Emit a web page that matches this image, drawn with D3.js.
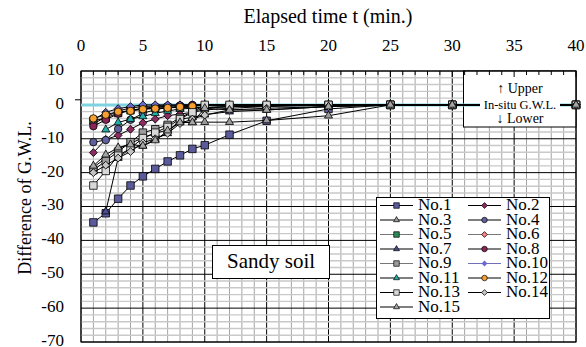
<!DOCTYPE html>
<html>
<head>
<meta charset="utf-8">
<script src="https://cdn.jsdelivr.net/npm/d3@7"></script>
<style>
  body { margin: 0; background: #fff; }
</style>
</head>
<body>
<div id="chart"></div>
<script>
// elapsed time (min.)
const times = [1, 2, 3, 4, 5, 6, 7, 8, 9, 10, 12, 15, 20, 25, 30, 40];
const seriesNames = ['No.1', 'No.2', 'No.3', 'No.4', 'No.5', 'No.6', 'No.7', 'No.8',
                     'No.9', 'No.10', 'No.11', 'No.12', 'No.13', 'No.14', 'No.15'];

// difference of G.W.L. for each well
const no1  = [-34.7, -32, -27.7, -23.8, -21.1, -18.9, -16.7, -14.9, -13, -11.9, -8.8, -4.7, -1.2, 0, 0, 0];
const no2  = [-14.1, -10.2, -9, -7.2, -5.3, -4.2, -3.2, -2.7, -2.2, -1.5, -1, -0.5, 0, 0, 0, 0];
const no3  = [-18.4, -15.8, -13, -11.3, -9.8, -8.4, -7.4, -5.1, -5.1, -5.1, -5.1, -4.6, -3.2, 0, 0, 0];
const no4  = [-11, -10.4, -7.1, -4.4, -2.5, -1.4, -0.8, -0.4, -0.2, 0, 0, 0, 0, 0, 0, 0];
const no5  = [-4.7, -3.9, -2.4, -1.6, -1.2, -0.9, -0.8, -0.8, -0.8, -0.8, -0.5, -0.3, 0, 0, 0, 0];
const no6  = [-5.6, -3.6, -1.8, -0.9, -0.5, -0.3, -0.2, 0, 0, 0, 0, 0, 0, 0, 0, 0];
const no7  = [null, -31.5, -15.7, -12.8, -12.1, -10.1, -8.4, -4.2, -3.7, -2.9, -2, -1.5, -0.5, 0, 0, 0];
const no8  = [-6.3, -4.4, -2.6, -1.6, -1, -0.6, -0.4, -0.2, 0, 0, 0, 0, 0, 0, 0, 0];
const no9  = [-19.3, -16.5, -13.8, -11, -8.2, -7.2, -5.9, -3.8, -2, -1, -0.5, -0.3, -0.2, 0, 0, 0];
const no10 = [-4.4, -2.2, -1.1, -0.5, 0, 0, 0, 0, 0, 0, 0, 0, 0, 0, 0, 0];
const no11 = [null, -7.3, -5.2, -4.2, -3.4, -2.5, -1.8, -1.2, -1, -0.8, -0.5, -0.2, 0, 0, 0, 0];
const no12 = [-4, -2.9, -2, -1.8, -1.3, -1.1, -0.9, -0.6, -0.4, -0.2, 0, 0, 0, 0, 0, 0];
const no13 = [-23.8, -19.5, -15, -12.8, -9.8, -8.2, -6.5, -4.2, -2.2, 0, 0, 0, 0, 0, 0, 0];
const no14 = [-20, -17.8, -15.7, -13.8, -11.2, -10, -8.4, -5.5, -4.2, -3, -1.5, -1, -0.5, 0, 0, 0];
const no15 = [-18, -14.7, -12.6, -11.7, -12.1, -10.5, -7.6, -5.2, -5.2, -1, -1.5, -1.5, -0.5, 0, 0, 0];
const seriesValues = [no1, no2, no3, no4, no5, no6, no7, no8, no9, no10, no11, no12, no13, no14, no15];

const xTicks = [0, 5, 10, 15, 20, 25, 30, 35, 40];
const yTicks = [10, 0, -10, -20, -30, -40, -50, -60, -70];

// marker look per series (kept apart from the values)
const markerShapes = ['square', 'diamond', 'triangle', 'circle', 'square', 'diamond', 'triangle', 'circle',
                      'square', 'diamond', 'triangle', 'circle', 'square', 'diamond', 'triangle'];
const markerFills = ['#5b5b9c', '#8e2a62', '#9a9a9a', '#60609e', '#2f8a5a', '#f28484', '#4c4c90', '#8b2558',
                     '#9c9c9c', '#6a6ad0', '#22b0aa', '#f7a030', '#d8d8d8', '#c4c4c4', '#a6a6a6'];
const lineColours = ['#000', '#000', '#000', '#000', '#777', '#777', '#000', '#000',
                     '#777', '#7070b8', '#000', '#000', '#000', '#000', '#000'];

const serif = 'Liberation Serif, DejaVu Serif, serif';
const width = 586, height = 347;
const svg = d3.select('#chart').append('svg')
    .attr('width', width)
    .attr('height', height)
    .attr('font-family', serif);

const x = d3.scaleLinear().domain([0, 40]).range([81, 576]);
const y = d3.scaleLinear().domain([-70, 10]).range([342, 71]);

function symbolPath(shape, s) {
    if (shape === 'square') return d3.symbol(d3.symbolSquare, s * s)();
    if (shape === 'circle') return d3.symbol(d3.symbolCircle, Math.PI * s * s / 4)();
    if (shape === 'triangle') return d3.symbol(d3.symbolTriangle, s * s * 0.5)();
    return d3.symbol(d3.symbolSquare, s * s * 0.55)();  // rotated later -> diamond
}

function addText(sel, size) {
    return sel.append('text')
        .attr('font-family', serif)
        .attr('font-size', size)
        .attr('fill', '#000');
}

// grid
const grid = svg.append('g');
d3.range(0, 41, 1).forEach(v => {
    grid.append('line')
        .attr('x1', x(v)).attr('x2', x(v))
        .attr('y1', y(10)).attr('y2', y(-70))
        .attr('stroke', v % 5 === 0 ? '#000' : '#a4a4a4')
        .attr('stroke-width', 1);
});
d3.range(-70, 11, 2).forEach(v => {
    grid.append('line')
        .attr('x1', x(0)).attr('x2', x(40))
        .attr('y1', y(v)).attr('y2', y(v))
        .attr('stroke', v % 10 === 0 ? '#000' : '#c9c9c9')
        .attr('stroke-width', v % 10 === 0 ? 1 : 1.4);
});

// note box upper right (hides the grid)
svg.append('rect')
    .attr('x', 463.5).attr('y', y(10))
    .attr('width', x(40) - 463.5).attr('height', 56)
    .attr('fill', '#fff').attr('stroke', '#000').attr('stroke-width', 1);

// top axis ticks
d3.range(0, 41, 1).forEach(v => {
    svg.append('line')
        .attr('x1', x(v)).attr('x2', x(v))
        .attr('y1', y(10)).attr('y2', y(10) + (v % 5 === 0 ? 6 : 4))
        .attr('stroke', '#000');
});

// plot frame
svg.append('rect')
    .attr('x', x(0)).attr('y', y(10))
    .attr('width', x(40) - x(0)).attr('height', y(-70) - y(10))
    .attr('fill', 'none').attr('stroke', '#000');

svg.append('line')
    .attr('x1', x(0) - 6).attr('x2', x(0))
    .attr('y1', y(1.5)).attr('y2', y(1.5))
    .attr('stroke', '#000');

// in-situ G.W.L.
svg.append('line')
    .attr('x1', x(0)).attr('x2', x(40))
    .attr('y1', y(0)).attr('y2', y(0))
    .attr('stroke', '#7fd3e0').attr('stroke-width', 3);

// series: line then markers, No.1 first so No.15 ends on top
const line = d3.line()
    .defined(d => d[1] !== null)
    .x(d => x(d[0]))
    .y(d => y(d[1]));

seriesValues.forEach((vals, i) => {
    const pts = times.map((t, j) => [t, vals[j]]);
    const g = svg.append('g').attr('class', 'series');
    g.append('path')
        .attr('d', line(pts))
        .attr('fill', 'none')
        .attr('stroke', '#000')
        .attr('stroke-width', 1);
    g.selectAll('.marker')
        .data(pts.filter(d => d[1] !== null))
        .enter().append('path')
        .attr('class', 'marker')
        .attr('d', symbolPath(markerShapes[i], 7.5))
        .attr('transform', d => `translate(${x(d[0])},${y(d[1])})` + (markerShapes[i] === 'diamond' ? ' rotate(45)' : ''))
        .attr('fill', markerFills[i])
        .attr('stroke', '#000')
        .attr('stroke-width', 0.8);
});

// note text
addText(svg, 14)
    .attr('x', 520).attr('y', 90)
    .attr('text-anchor', 'middle').attr('dominant-baseline', 'middle')
    .text('\u2191 Upper');
svg.append('rect')
    .attr('x', 480).attr('y', y(0) - 7)
    .attr('width', 80).attr('height', 14)
    .attr('fill', '#fff');
addText(svg, 12.5)
    .attr('x', 520).attr('y', y(0) + 1)
    .attr('text-anchor', 'middle').attr('dominant-baseline', 'middle')
    .text('In-situ G.W.L.');
addText(svg, 14)
    .attr('x', 520).attr('y', 120)
    .attr('text-anchor', 'middle').attr('dominant-baseline', 'middle')
    .text('\u2193 Lower');

// sandy soil label
svg.append('rect')
    .attr('x', 212.5).attr('y', 245.5)
    .attr('width', 117).attr('height', 33)
    .attr('fill', '#fff').attr('stroke', '#000');
addText(svg, 21)
    .attr('x', 271).attr('y', 263)
    .attr('text-anchor', 'middle').attr('dominant-baseline', 'middle')
    .text('Sandy soil');

// legend
const legend = svg.append('g');
legend.append('rect')
    .attr('x', 376.5).attr('y', 197.5)
    .attr('width', 173).attr('height', 121)
    .attr('fill', '#fff').attr('stroke', '#000');

seriesNames.forEach((name, i) => {
    const col = i % 2;
    const row = Math.floor(i / 2);
    const lx = col === 0 ? 380 : 468;
    const ly = 205.5 + row * 14.5;
    const item = legend.append('g').attr('transform', `translate(${lx},${ly})`);
    item.append('line')
        .attr('x1', 0).attr('x2', 33)
        .attr('y1', 0).attr('y2', 0)
        .attr('stroke', lineColours[i]).attr('stroke-width', 1.2);
    item.append('path')
        .attr('d', symbolPath(markerShapes[i], 5.5))
        .attr('transform', 'translate(16.5,0)' + (markerShapes[i] === 'diamond' ? ' rotate(45)' : ''))
        .attr('fill', markerFills[i])
        .attr('stroke', i === 9 ? 'none' : '#000')
        .attr('stroke-width', 0.7);
    addText(item, 17)
        .attr('x', 38).attr('y', 1)
        .attr('dominant-baseline', 'middle')
        .text(name);
});

// axes labels
xTicks.forEach(d => {
    addText(svg, 17)
        .attr('x', x(d)).attr('y', 47)
        .attr('text-anchor', 'middle').attr('dominant-baseline', 'middle')
        .text(d);
});

yTicks.forEach(d => {
    addText(svg, 17)
        .attr('x', 64).attr('y', y(d))
        .attr('text-anchor', 'end').attr('dominant-baseline', 'middle')
        .text(d);
});

addText(svg, 20)
    .attr('x', 328).attr('y', 18)
    .attr('text-anchor', 'middle').attr('dominant-baseline', 'middle')
    .text('Elapsed time t (min.)');

addText(svg, 18)
    .attr('transform', 'translate(27,198) rotate(-90)')
    .attr('text-anchor', 'middle').attr('dominant-baseline', 'middle')
    .text('Difference of G.W.L.');
</script>
</body>
</html>
